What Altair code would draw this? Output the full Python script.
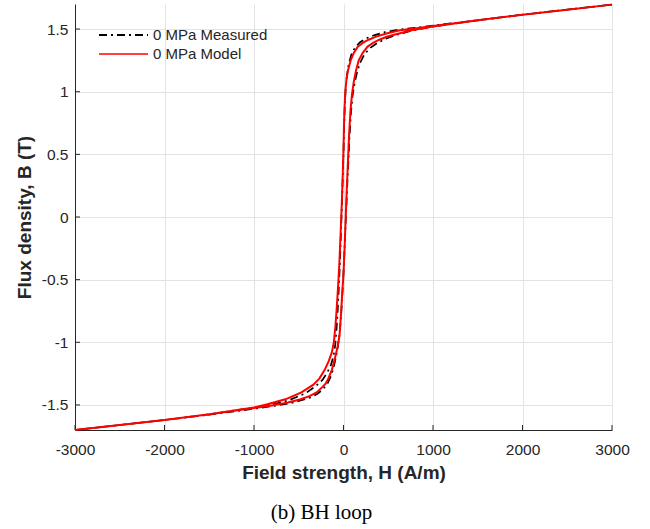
import altair as alt
import pandas as pd

series_names = ["0 MPa Measured", "0 MPa Model"]

# Measured loop: descending branch (from +H sat to -H sat)
meas_desc_H = [3000, 2500, 2000, 1500, 1000, 800, 620, 460, 340, 250, 185, 130, 90, 58, 38, 25, 15, 7, 0,
               -8, -16, -24, -32, -42, -53, -65, -78, -92, -112, -140, -180, -235, -310, -430, -620, -820,
               -1000, -1500, -2000, -2500, -3000]
meas_desc_B = [1.695, 1.655, 1.615, 1.57, 1.528, 1.51, 1.495, 1.475, 1.45, 1.425, 1.395, 1.355, 1.30, 1.22, 1.13,
               1.03, 0.90, 0.72, 0.52, 0.32, 0.13, -0.03, -0.20, -0.40, -0.58, -0.75, -0.90, -1.02, -1.11, -1.18,
               -1.24, -1.30, -1.35, -1.41, -1.465, -1.50, -1.52, -1.575, -1.62, -1.66, -1.70]
# Measured loop: ascending branch
meas_asc_H = [-3000, -2500, -2000, -1500, -1000, -800, -620, -480, -370, -290, -230, -180, -140, -110, -85, -62,
              -42, -25, -10, 3, 15, 27, 40, 53, 66, 82, 100, 122, 150, 185, 235, 300, 380, 480, 620, 780, 1000,
              1500, 2000, 2500, 3000]
meas_asc_B = [-1.70, -1.66, -1.62, -1.578, -1.53, -1.51, -1.49, -1.465, -1.44, -1.41, -1.375, -1.33, -1.27, -1.20,
              -1.12, -1.03, -0.92, -0.76, -0.58, -0.40, -0.20, 0.0, 0.22, 0.42, 0.62, 0.82, 0.96, 1.06, 1.15, 1.23,
              1.30, 1.35, 1.39, 1.425, 1.46, 1.49, 1.52, 1.57, 1.615, 1.655, 1.695]

# Model loop: descending branch
model_desc_H = [3000, 2500, 2000, 1500, 1000, 800, 630, 480, 365, 280, 215, 160, 115, 80, 50, 32, 20, 12, 5, 0,
                -8, -17, -25, -35, -47, -60, -75, -90, -108, -130, -165, -210, -270, -340, -470, -650, -850,
                -1000, -1500, -2000, -2500, -3000]
model_desc_B = [1.695, 1.655, 1.615, 1.57, 1.525, 1.505, 1.49, 1.465, 1.44, 1.415, 1.39, 1.36, 1.31, 1.25, 1.17,
                1.09, 1.0, 0.88, 0.72, 0.55, 0.35, 0.15, 0.0, -0.18, -0.38, -0.55, -0.72, -0.87, -1.0, -1.08,
                -1.15, -1.22, -1.29, -1.34, -1.40, -1.455, -1.495, -1.52, -1.575, -1.62, -1.66, -1.70]
# Model loop: ascending branch
model_asc_H = [-3000, -2500, -2000, -1500, -1000, -800, -620, -480, -380, -300, -240, -200, -170, -130, -100, -70,
               -45, -30, -15, 0, 12, 25, 38, 50, 62, 78, 95, 115, 140, 170, 215, 270, 330, 400, 490, 620, 760,
               1000, 1500, 2000, 2500, 3000]
model_asc_B = [-1.70, -1.66, -1.62, -1.575, -1.525, -1.505, -1.48, -1.455, -1.43, -1.40, -1.36, -1.33, -1.29, -1.22,
               -1.14, -1.05, -0.95, -0.80, -0.62, -0.45, -0.25, 0.0, 0.25, 0.45, 0.65, 0.85, 0.98, 1.08, 1.17,
               1.25, 1.31, 1.36, 1.39, 1.415, 1.44, 1.465, 1.49, 1.52, 1.57, 1.615, 1.655, 1.695]

x_ticks = [-3000, -2000, -1000, 0, 1000, 2000, 3000]
y_ticks = [-1.5, -1, -0.5, 0, 0.5, 1, 1.5]


def loop_frame(name, hd, bd, ha, ba):
    rows = []
    i = 0
    for h, b in list(zip(hd, bd)) + list(zip(ha, ba)):
        rows.append({"series": name, "H": h, "B": b, "i": i})
        i += 1
    return pd.DataFrame(rows)


df_meas = loop_frame(series_names[0], meas_desc_H, meas_desc_B, meas_asc_H, meas_asc_B)
df_model = loop_frame(series_names[1], model_desc_H, model_desc_B, model_asc_H, model_asc_B)

W, HT = 537, 426
xscale = alt.Scale(domain=[-3000, 3000], nice=False, zero=False)
yscale = alt.Scale(domain=[-1.7, 1.7], nice=False, zero=False)

x_axis = alt.Axis(values=x_ticks, title="Field strength, H (A/m)", grid=True, tickSize=0,
                  labelPadding=12, titlePadding=6, labelFlush=False, labelOverlap=False,
                  labelExpr="datum.value + ''")
y_axis = alt.Axis(values=y_ticks, title="Flux density, B (T)", grid=True, tickSize=0,
                  labelPadding=7, titlePadding=7, labelFlush=False, labelOverlap=False,
                  labelExpr="datum.value + ''")

xH = alt.X("H:Q", scale=xscale, axis=x_axis)
yB = alt.Y("B:Q", scale=yscale, axis=y_axis)

meas = alt.Chart(df_meas).mark_line(color="black", strokeWidth=1.7, strokeDash=[8, 4, 2, 4]).encode(
    x=xH, y=yB, order="i:Q")
model = alt.Chart(df_model).mark_line(color="#ff0000", strokeWidth=2).encode(
    x=xH, y=yB, order="i:Q")

xt_df = pd.DataFrame({"H": x_ticks})
yt_df = pd.DataFrame({"B": y_ticks})
xticks_layer = alt.Chart(xt_df).mark_rule(color="#262626", strokeWidth=1).encode(
    x=xH, y=alt.value(HT), y2=alt.value(HT - 5))
yticks_layer = alt.Chart(yt_df).mark_rule(color="#262626", strokeWidth=1).encode(
    y=yB, x=alt.value(0), x2=alt.value(5))

leg1 = pd.DataFrame({"label": [series_names[0]]})
leg2 = pd.DataFrame({"label": [series_names[1]]})
leg_rule1 = alt.Chart(leg1).mark_rule(color="black", strokeWidth=1.8, strokeDash=[8, 4, 2, 4]).encode(
    x=alt.value(24), x2=alt.value(73), y=alt.value(31))
leg_rule2 = alt.Chart(leg2).mark_rule(color="#ff0000", strokeWidth=1.6).encode(
    x=alt.value(24), x2=alt.value(73), y=alt.value(50))
leg_text1 = alt.Chart(leg1).mark_text(align="left", baseline="middle", font="Liberation Sans",
                                      fontSize=15, color="#262626").encode(
    x=alt.value(78), y=alt.value(31), text="label:N")
leg_text2 = alt.Chart(leg2).mark_text(align="left", baseline="middle", font="Liberation Sans",
                                      fontSize=15, color="#262626").encode(
    x=alt.value(78), y=alt.value(50), text="label:N")

chart = alt.layer(
    xticks_layer, yticks_layer, meas, model, leg_rule1, leg_rule2, leg_text1, leg_text2
).properties(
    width=W, height=HT,
    padding={"left": 75, "top": 4, "right": 38, "bottom": 99},
    autosize=alt.AutoSizeParams(type="none"),
    title=alt.TitleParams("(b) BH loop", orient="bottom", anchor="middle", font="Liberation Serif",
                          fontSize=21, fontWeight="normal", color="black", offset=19, dx=-22),
).configure_view(stroke=None).configure_axis(
    domainColor="#262626", domainWidth=1, gridColor="#e3e3e3", gridWidth=1,
    labelFont="Liberation Sans", labelFontSize=15.5, labelColor="#262626",
    titleFont="Liberation Sans", titleFontSize=19, titleFontWeight="bold", titleColor="#262626",
)

chart.save("out.html", embed_options={"renderer": "svg", "actions": False})
